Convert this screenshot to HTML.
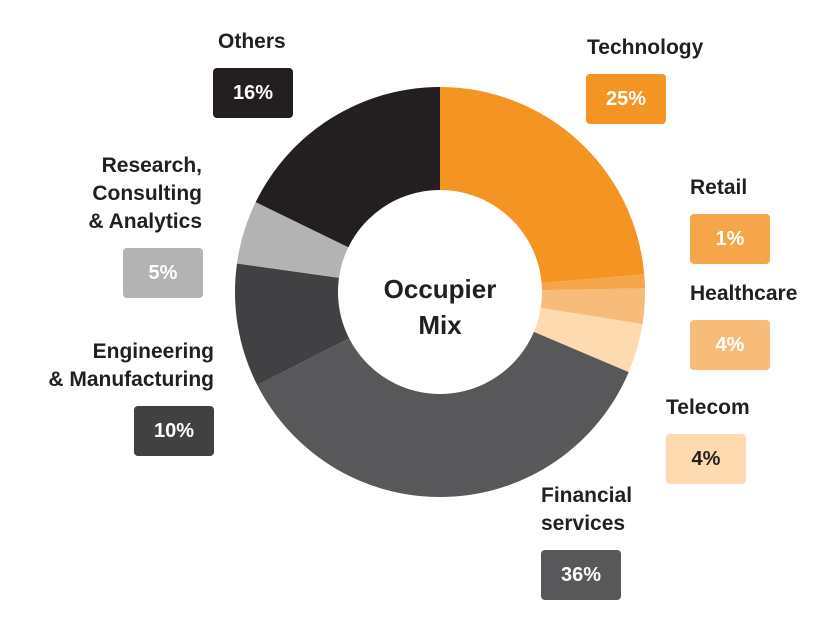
<!DOCTYPE html>
<html><head><meta charset="utf-8"><style>
body{margin:0;background:#fff;width:840px;height:627px;overflow:hidden;font-family:"Liberation Sans",sans-serif}
.l{position:absolute;font-weight:bold;font-size:21px;color:#231f20;line-height:28px;white-space:nowrap}
.r{text-align:right}
.b{position:absolute;border-radius:4px;color:#fff;font-weight:bold;font-size:20px;text-align:center;line-height:50px;height:50px}
</style></head><body>
<svg width="840" height="627" style="position:absolute;left:0;top:0">
<g id="d"></g>
<circle cx="440" cy="292" r="102" fill="#fff"/>
<text x="440" y="298" font-family="Liberation Sans" font-weight="bold" font-size="26" text-anchor="middle" fill="#231f20">Occupier</text>
<text x="440" y="334" font-family="Liberation Sans" font-weight="bold" font-size="26" text-anchor="middle" fill="#231f20">Mix</text>
</svg>
<script>
var s=[[0,85,"#f39423"],[85,89,"#f5a54a"],[89,99,"#f8bc7a"],[99,113,"#fddab0"],[113,243,"#58585a"],[243,278,"#414042"],[278,296,"#b3b3b3"],[296,360,"#231f20"]];
var cx=440,cy=292,R=205,h="";
function p(a,r){a=a*Math.PI/180;return (cx+r*Math.sin(a)).toFixed(1)+","+(cy-r*Math.cos(a)).toFixed(1)}
s.forEach(function(x){h+='<path d="M'+cx+','+cy+' L'+p(x[0],R)+' A'+R+','+R+' 0 '+(x[1]-x[0]>180?1:0)+',1 '+p(x[1],R)+' Z" fill="'+x[2]+'"/>'});
document.getElementById('d').innerHTML=h;
</script>
<div class="l" style="left:218px;top:28px">Others</div>
<div class="b" style="left:213px;top:68px;width:80px;background:#231f20">16%</div>
<div class="l r" style="right:638px;top:152px">Research,<br>Consulting<br>&amp; Analytics</div>
<div class="b" style="left:123px;top:248px;width:80px;background:#b3b3b3">5%</div>
<div class="l r" style="right:626px;top:338px">Engineering<br>&amp; Manufacturing</div>
<div class="b" style="left:134px;top:406px;width:80px;background:#414042">10%</div>
<div class="l" style="left:587px;top:34px">Technology</div>
<div class="b" style="left:586px;top:74px;width:80px;background:#f39423">25%</div>
<div class="l" style="left:690px;top:174px">Retail</div>
<div class="b" style="left:690px;top:214px;width:80px;background:#f5a54a">1%</div>
<div class="l" style="left:690px;top:280px">Healthcare</div>
<div class="b" style="left:690px;top:320px;width:80px;background:#f8bc7a">4%</div>
<div class="l" style="left:666px;top:394px">Telecom</div>
<div class="b" style="left:666px;top:434px;width:80px;background:#fddab0;color:#231f20">4%</div>
<div class="l" style="left:541px;top:482px">Financial<br>services</div>
<div class="b" style="left:541px;top:550px;width:80px;background:#58585a">36%</div>
</body></html>
